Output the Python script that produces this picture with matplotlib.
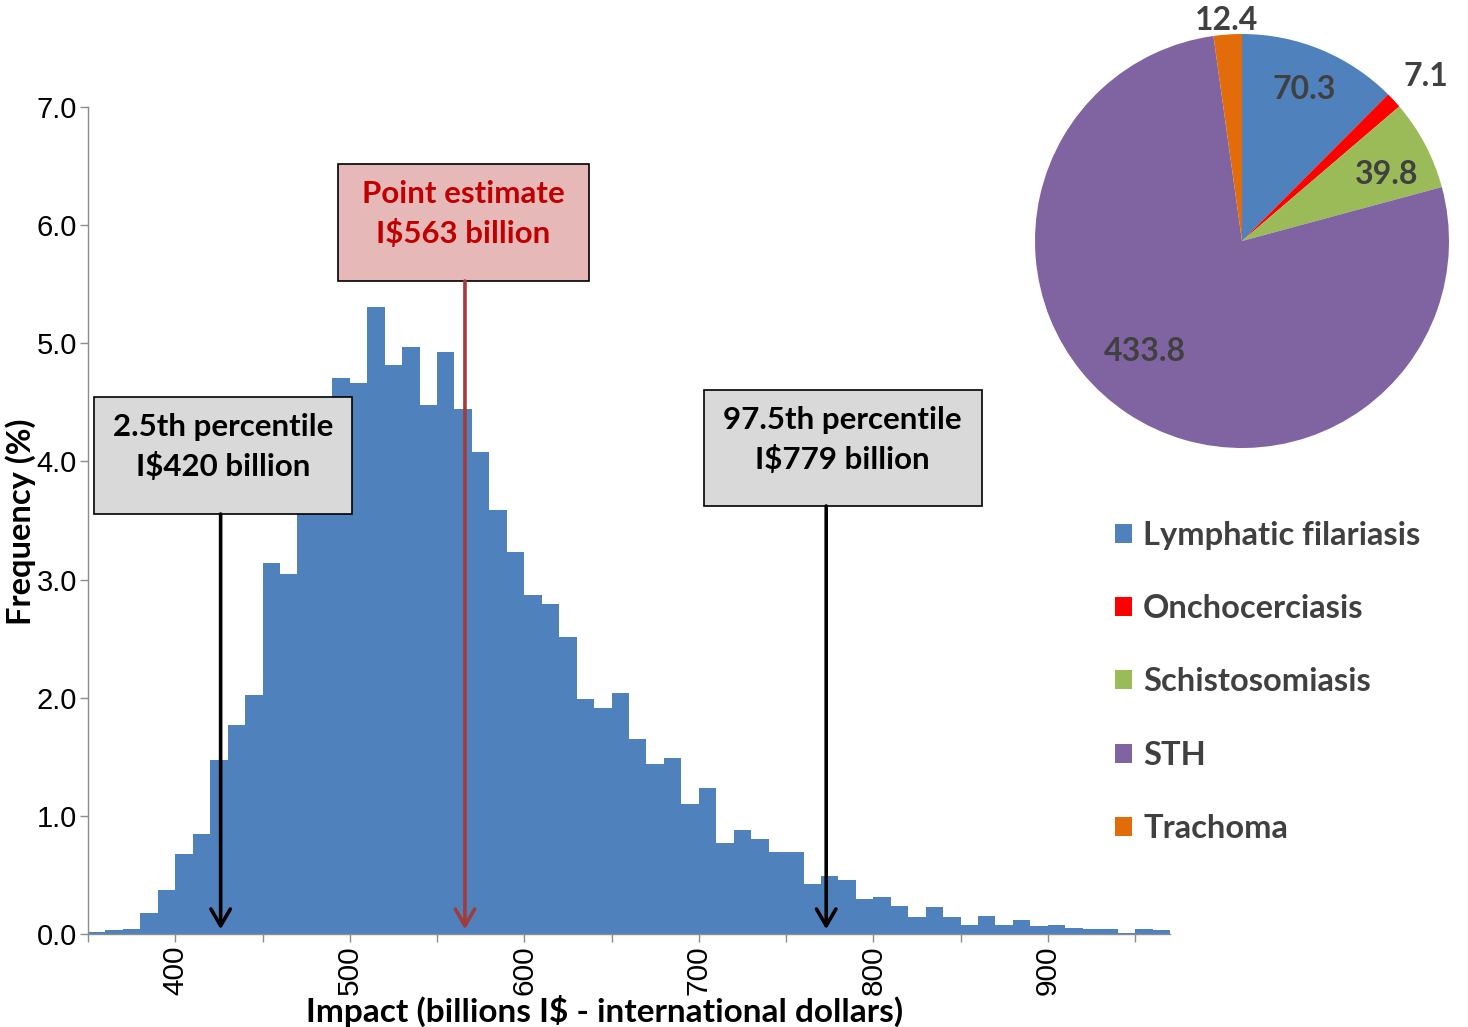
import numpy as np
import matplotlib
matplotlib.use("Agg")
import matplotlib.pyplot as plt
from matplotlib.patches import Rectangle

# ---------------- data ----------------
bin_width = 10
bin_left = np.arange(350, 970, bin_width)
freq = [0.02, 0.03, 0.04, 0.18, 0.37, 0.68, 0.85, 1.47, 1.77, 2.02,
        3.14, 3.05, 3.62, 3.98, 4.71, 4.66, 5.31, 4.82, 4.97, 4.48,
        4.93, 4.44, 4.08, 3.59, 3.23, 2.87, 2.79, 2.51, 1.99, 1.91,
        2.04, 1.65, 1.44, 1.49, 1.10, 1.24, 0.77, 0.88, 0.80, 0.69,
        0.69, 0.42, 0.49, 0.46, 0.30, 0.31, 0.24, 0.14, 0.23, 0.14,
        0.08, 0.15, 0.08, 0.12, 0.07, 0.08, 0.05, 0.04, 0.04, 0.01,
        0.04, 0.03]

# arrows (where they hit the x axis) and the box texts
marker_x = [426, 566, 773]
marker_text = ["2.5th percentile\nI\\$420 billion",
               "Point estimate\nI\\$563 billion",
               "97.5th percentile\nI\\$779 billion"]

diseases = ["Lymphatic filariasis", "Onchocerciasis", "Schistosomiasis",
            "STH", "Trachoma"]
impact = [70.3, 7.1, 39.8, 433.8, 12.4]

# ---------------- style ----------------
BLUE = "#4f81bd"
pie_colors = ["#4f81bd", "#ff0000", "#9bbb59", "#8064a2", "#e36c0a"]
TXT = "#404040"
BOLD = dict(family="Lato", fontweight="bold")

W, H = 1468, 1027
fig = plt.figure(figsize=(W / 100, H / 100), dpi=100)

# ---------------- histogram ----------------
ax = fig.add_axes([88 / W, 93 / H, (1170 - 88) / W, (934 - 107) / H])
ax.bar(bin_left, freq, width=bin_width, align="edge", color=BLUE,
       linewidth=0)
ax.set_xlim(350, 970)
ax.set_ylim(0, 7)

for s in ("top", "right"):
    ax.spines[s].set_visible(False)
for s in ("left", "bottom"):
    ax.spines[s].set_color("#8c8c8c")
    ax.spines[s].set_linewidth(1.0)

ax.set_yticks(np.arange(0, 7.1, 1))
ax.set_yticklabels([f"{v:.1f}" for v in np.arange(0, 7.1, 1)],
                   family="Liberation Sans", fontsize=21)
xt = np.arange(350, 951, 50)
ax.set_xticks(xt)
ax.set_xticklabels([str(v) if v % 100 == 0 else "" for v in xt],
                   rotation=90, family="Liberation Sans", fontsize=21.5)
ax.tick_params(axis="both", direction="out", length=6, width=1,
               color="#8c8c8c", pad=2)

ax.set_xlabel("Impact (billions I\\$ - international dollars)",
              fontsize=24, **BOLD)
ax.xaxis.set_label_coords(0.477, -0.074)
ax.set_ylabel("Frequency (%)", fontsize=23.5, **BOLD)
ax.yaxis.set_label_coords(-0.048, 0.498)

# annotation boxes (x0, x1, y0, y1 in data units)
boxes = [(353.4, 501.2, 3.555, 4.545),
         (493.2, 636.9, 5.527, 6.518),
         (702.8, 862.0, 3.623, 4.605)]
box_fc = ["#d9d9d9", "#e6b9b8", "#d9d9d9"]
txt_c = ["black", "#c00000", "black"]
arrow_c = ["black", "#a33b3a", "black"]

for (x0, x1, y0, y1), fc, tc, ac, mx, t in zip(boxes, box_fc, txt_c,
                                               arrow_c, marker_x,
                                               marker_text):
    ax.add_patch(Rectangle((x0, y0), x1 - x0, y1 - y0, facecolor=fc,
                           edgecolor="black", linewidth=1.2, zorder=5))
    ax.text((x0 + x1) / 2, (y0 + y1) / 2 + 0.07, t, ha="center",
            va="center", color=tc, fontsize=22.5, linespacing=1.45,
            zorder=6, **BOLD)
    ax.annotate("", xy=(mx, 0.04), xytext=(mx, y0),
                arrowprops=dict(arrowstyle="->,head_length=0.6,head_width=0.35",
                                color=ac, lw=2.6, shrinkA=0, shrinkB=0,
                                mutation_scale=20),
                zorder=7)

# ---------------- pie ----------------
R = 207
cx, cy = 1242, 241
pax = fig.add_axes([(cx - R) / W, (H - cy - R) / H, 2 * R / W, 2 * R / H])
wedges, _ = pax.pie(impact, colors=pie_colors, startangle=90,
                    counterclock=False, radius=1,
                    wedgeprops=dict(linewidth=0))
pax.set_xlim(-1, 1)
pax.set_ylim(-1, 1)

label_r = [0.79, 1.19, 0.77, 0.71, 1.07]
label_rot = [0, -1, -3, -8, 0]
for w, v, r, da in zip(wedges, impact, label_r, label_rot):
    ang = np.radians((w.theta1 + w.theta2) / 2 + da)
    pax.text(r * np.cos(ang), r * np.sin(ang), f"{v:.1f}", ha="center",
             va="center", color=TXT, fontsize=23, clip_on=False, **BOLD)

leg = fig.legend(wedges, diseases, loc="upper left",
                 bbox_to_anchor=(1115 / W, 1 - 521 / H), frameon=False,
                 prop=dict(family="Lato", weight="bold", size=23.5),
                 handlelength=0.52, handleheight=0.52, handletextpad=0.34,
                 labelspacing=1.355, borderpad=0, borderaxespad=0)
for t in leg.get_texts():
    t.set_color(TXT)

fig.savefig("out.png", dpi=100)
